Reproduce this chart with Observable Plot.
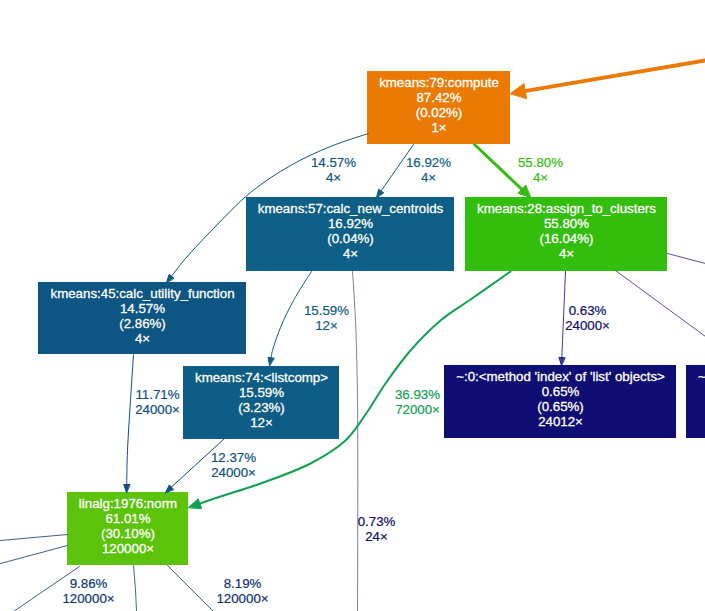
<!DOCTYPE html>
<html><head><meta charset="utf-8">
<script src="https://cdn.jsdelivr.net/npm/d3@7"></script>
<script src="https://cdn.jsdelivr.net/npm/@observablehq/plot@0.6"></script>
<style>
html,body{margin:0;padding:0;background:#fff;overflow:hidden}
svg{overflow:hidden;display:block}
</style>
</head><body><div id="chart"></div>
<script>
// ---------- values ----------
const nodeNames = [
  "kmeans:79:compute",
  "kmeans:57:calc_new_centroids",
  "kmeans:28:assign_to_clusters",
  "kmeans:45:calc_utility_function",
  "kmeans:74:<listcomp>",
  "~:0:<method 'index' of 'list' objects>",
  "linalg:1976:norm",
  "~:0:<method 'append' of 'list' objects>"
];
const nodeTotal = ["87.42%", "16.92%", "55.80%", "14.57%", "15.59%", "0.65%", "61.01%", null];
const nodeSelf  = ["(0.02%)", "(0.04%)", "(16.04%)", "(2.86%)", "(3.23%)", "(0.65%)", "(30.10%)", null];
const nodeCalls = ["1×", "4×", "4×", "4×", "12×", "24012×", "120000×", null];

const edgePct   = [null, "14.57%", "16.92%", "55.80%", "15.59%", "0.73%", "0.63%", null, null, "36.93%", "11.71%", "12.37%", null, null, "9.86%", null, "8.19%"];
const edgeCalls = [null, "4×", "4×", "4×", "12×", "24×", "24000×", null, null, "72000×", "24000×", "24000×", null, null, "120000×", null, "120000×"];

// ---------- layout (graph drawing positions) ----------
const nodeBox = [ // [x1, y1, x2, y2]
  [367, 71, 510, 144],
  [246, 197, 454, 271],
  [465, 197, 667, 271],
  [38, 282, 246, 354],
  [183, 366, 339, 439],
  [444, 365, 676, 438],
  [67, 492, 188, 565],
  [686, 365, 930, 438]
];
const edgePath = [
  [[705, 60], [510, 93]],
  [[368, 133], [330, 146], [290, 165], [250, 192], [213, 228], [185, 258], [166, 282]],
  [[413, 144], [376, 197]],
  [[474, 144], [530, 197]],
  [[311, 271], [293, 300], [280, 327], [272, 350], [269, 365]],
  [[352, 271], [355, 320], [357, 400], [357, 611]],
  [[565, 271], [561, 365]],
  [[667, 253], [705, 263]],
  [[615, 270], [705, 336]],
  [[510, 271], [470, 299], [440, 320], [410, 350], [385, 383], [365, 414], [345, 440], [310, 463], [260, 483], [220, 496], [188, 507]],
  [[133, 354], [130, 400], [127, 450], [126, 492]],
  [[224, 438], [165, 492]],
  [[67, 534], [0, 540]],
  [[67, 545], [0, 563]],
  [[79, 566], [13, 611]],
  [[133, 565], [135, 590], [136, 611]],
  [[167, 565], [213, 611]]
];
const edgeArrow = [true, true, true, true, true, false, true, false, false, true, true, true, false, false, false, false, false];
const labelPos = [null, [333, 169.5], [428, 169.5], [540, 169.5], [326, 317], [376, 528], [587, 317], null, null, [417, 401], [157, 401], [233, 464], null, null, [88, 590], null, [242, 590]];

// ---------- styles ----------
const nodeFill = ["#eb7a05", "#0d5f87", "#33bd0c", "#0d5583", "#0d5d86", "#0e0d73", "#5bc30a", "#0e0d73"];
const edgeColor = ["#eb7a05", "#0d5583", "#0d5f87", "#33bd0c", "#0d5d86", "#0e0d73", "#0e0d73", "#0e0d73", "#0e0d73", "#12a150", "#0d4d81", "#0d4f81", "#0d367b", "#0d367b", "#0d367b", "#0d367b", "#0d307a"];
const edgeWidth = [4, 1, 1, 3, 1, 1, 1, 1, 1, 2, 1, 1, 1, 1, 1, 1, 1];
const edgeOpacity = [1, 1, 1, 1, 1, 0.55, 0.8, 0.7, 0.7, 1, 1, 1, 0.8, 0.8, 0.8, 0.8, 0.8];

const FONT = "Liberation Sans, Arial, Helvetica, sans-serif";

// ---------- build tables ----------
const nodes = nodeNames.map((name, i) => ({
  name,
  x1: nodeBox[i][0], y1: nodeBox[i][1], x2: nodeBox[i][2], y2: nodeBox[i][3],
  cx: (nodeBox[i][0] + nodeBox[i][2]) / 2,
  ty: nodeBox[i][1] + 5,
  fill: nodeFill[i],
  label: [name, nodeTotal[i], nodeSelf[i], nodeCalls[i]].filter(d => d != null).join("\n")
}));

const marks = [];
marks.push(Plot.rect(nodes, {x1: "x1", x2: "x2", y1: "y1", y2: "y2", fill: "fill"}));

edgePath.forEach((pts, i) => {
  const w = edgeWidth[i];
  let linePts = pts.map(p => ({x: p[0], y: p[1]}));
  if (edgeArrow[i]) {
    const tip = pts[pts.length - 1], prev = pts[pts.length - 2];
    const dx = tip[0] - prev[0], dy = tip[1] - prev[1];
    const len = Math.hypot(dx, dy), ux = dx / len, uy = dy / len;
    const L = w >= 4 ? 15 : w >= 3 ? 12 : w >= 2 ? 12 : 8;
    const W = w >= 4 ? 7.5 : w >= 3 ? 5.5 : w >= 2 ? 5 : 3;
    const bx = tip[0] - ux * L, by = tip[1] - uy * L;
    linePts[linePts.length - 1] = {x: tip[0] - ux * L * 0.85, y: tip[1] - uy * L * 0.85};
    const tri = [
      {x: tip[0], y: tip[1]},
      {x: bx - uy * W, y: by + ux * W},
      {x: bx + uy * W, y: by - ux * W}
    ];
    marks.push(Plot.line(tri, {x: "x", y: "y", curve: "linear-closed", fill: edgeColor[i], stroke: edgeColor[i], strokeWidth: 1, strokeOpacity: edgeOpacity[i], fillOpacity: edgeOpacity[i]}));
  }
  marks.push(Plot.line(linePts, {x: "x", y: "y", curve: pts.length > 2 ? "catmull-rom" : "linear", stroke: edgeColor[i], strokeWidth: w, strokeOpacity: edgeOpacity[i]}));
});

const labels = edgePct.map((p, i) => p == null ? null : ({
  x: labelPos[i][0], y: labelPos[i][1], color: edgeColor[i], text: p + "\n" + edgeCalls[i]
})).filter(d => d);

marks.push(Plot.text(labels, {x: "x", y: "y", text: "text", fill: "color", stroke: "color", strokeWidth: 0.2, fontSize: 13.3, lineHeight: 1.1, fontFamily: FONT, lineAnchor: "middle"}));
marks.push(Plot.text(nodes, {x: "cx", y: "ty", text: "label", fill: "white", stroke: "white", strokeWidth: 0.3, fontSize: 13.3, lineHeight: 1.13, fontFamily: FONT, lineAnchor: "top"}));

const chart = Plot.plot({
  width: 705, height: 611,
  margin: 0,
  x: {type: "linear", domain: [0, 705], range: [0, 705], axis: null},
  y: {type: "linear", domain: [0, 611], range: [0, 611], axis: null},
  color: {type: "identity"},
  style: {background: "#fff", overflow: "hidden"},
  marks
});
document.getElementById("chart").appendChild(chart);
</script>
</body></html>
